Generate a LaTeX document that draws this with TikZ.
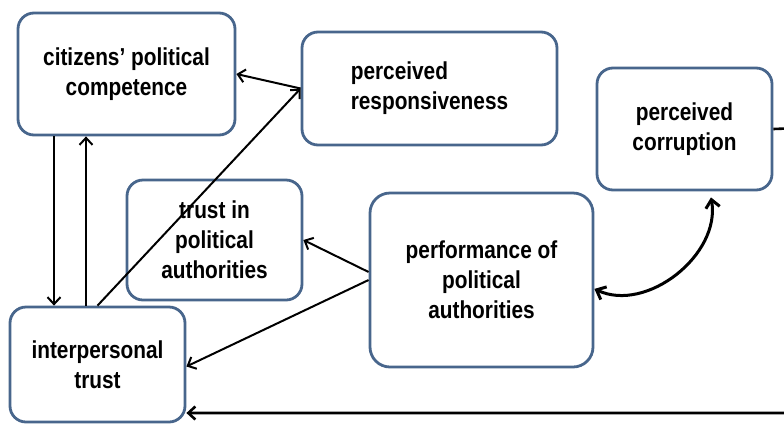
\documentclass[tikz,border=0pt]{standalone}
\usepackage{fontspec}
\setmainfont{Liberation Sans}[FakeStretch=0.85]
\usetikzlibrary{arrows.meta}
\definecolor{boxblue}{RGB}{72,102,140}

\begin{document}
\begin{tikzpicture}[
    x=1pt, y=-1pt,
    box/.style={rectangle, draw=boxblue, line width=2.8pt, fill=white, rounded corners=16pt,
                align=center, inner sep=0pt, font=\fontsize{24.5}{30}\selectfont\bfseries},
    line/.style={draw, line width=2pt, -{Straight Barb[length=7pt, width=13pt]}}
]
\path[use as bounding box, clip] (0,0) rectangle (784,424);

% Boxes
\node [box, minimum width=217pt, minimum height=122pt] (comp) at (126.5,74) {citizens’ political\\competence};
\node [box, minimum width=255pt, minimum height=113pt, align=left] (resp) at (429.5,88.5) {perceived\\responsiveness};
\node [box, minimum width=175pt, minimum height=122pt] (corr) at (684.5,129) {perceived\\corruption};
\node [box, minimum width=175pt, minimum height=120pt] (trust) at (214.5,240) {trust in\\political\\authorities};
\node [box, minimum width=223pt, minimum height=174pt, rounded corners=20pt] (perf) at (481.5,280) {performance of\\political\\authorities};
\node [box, minimum width=175pt, minimum height=115pt] (inter) at (97.5,364.5) {interpersonal\\trust};

% Connect competence and interpersonal trust
\draw [line] ([xshift=-72.5pt]comp.south) -- ([xshift=-43.5pt]inter.north);
\draw [line] ([xshift=-11.5pt]inter.north) -- ([xshift=-40.5pt]comp.south);
\draw [line] (resp.west) -- (comp.east);
\draw [line] (inter.north) -- (resp.west);

% Connect performance
\draw [line] ([yshift=8pt]perf.west) -- (trust.east);
\draw [line] (perf.west) -- ([yshift=-2pt]inter.east);
\draw [line, line width=3pt, {Straight Barb[length=8pt, width=14pt]}-{Straight Barb[length=8pt, width=14pt]}]
    ([yshift=-1pt]perf.-4) to[out=-25, in=-80] ([yshift=-6pt]corr.-67);

% Feedback from corruption, running outside the frame
\coordinate (edge) at (800,128);
\draw [line, line width=2.6pt] (corr.east) -- (edge) |- ([yshift=-48.5pt]inter.east);

\end{tikzpicture}
\end{document}
